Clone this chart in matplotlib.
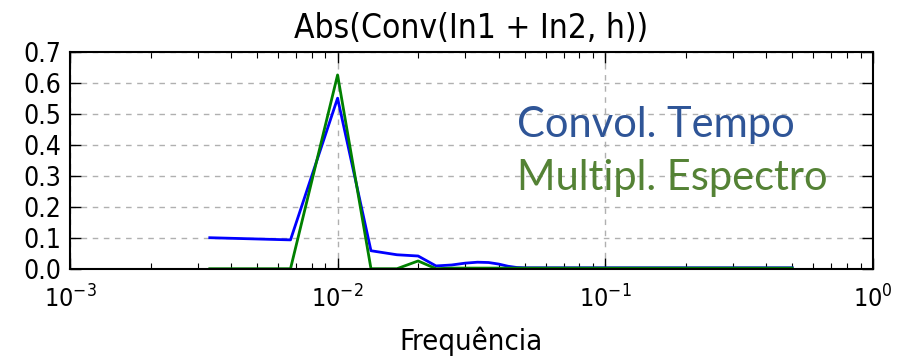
import matplotlib
matplotlib.use("Agg")
import matplotlib.pyplot as plt

# |conv| spectrum, time-domain convolution vs spectrum multiplication
freq = [0.00333, 0.00667, 0.01, 0.01333, 0.01667, 0.02, 0.02333, 0.02667,
        0.03, 0.03333, 0.03667, 0.04, 0.04333, 0.04667, 0.05, 0.1, 0.2, 0.5]
conv_time = [0.100, 0.093, 0.550, 0.058, 0.045, 0.041, 0.009, 0.012,
             0.018, 0.021, 0.020, 0.015, 0.008, 0.004, 0.003, 0.003, 0.003, 0.003]
mult_spec = [0.0, 0.0, 0.625, 0.0, 0.0, 0.025, 0.0, 0.002,
             0.002, 0.002, 0.002, 0.002, 0.002, 0.002, 0.002, 0.002, 0.002, 0.002]

yticks = [0.0, 0.1, 0.2, 0.3, 0.4, 0.5, 0.6, 0.7]

plt.rcParams["font.family"] = ["DejaVu Sans"]
plt.rcParams["font.stretch"] = "condensed"

fig = plt.figure(figsize=(8.97, 3.58), dpi=100)
ax = fig.add_axes([0.078, 0.2494, 0.8950, 0.6062])

ax.plot(freq, conv_time, color="#0000ff", lw=2.0)
ax.plot(freq, mult_spec, color="#008000", lw=2.0)

ax.set_xscale("log")
ax.set_xlim(1e-3, 1)
ax.set_ylim(0, 0.7)
ax.set_yticks(yticks)
ax.set_yticklabels([f"{v:.1f}" for v in yticks])

ax.grid(True, which="major", color="#b0b0b0", ls=(0, (4, 4)), lw=1.0)
ax.tick_params(which="both", direction="in", top=True, right=True,
               colors="black")
ax.tick_params(axis="y", labelsize=19, pad=6)
ax.tick_params(axis="x", labelsize=18, pad=12)
ax.tick_params(which="major", length=8, width=1.0)
ax.tick_params(which="minor", length=4, width=0.8)
for sp in ax.spines.values():
    sp.set_linewidth(1.5)

ax.set_title("Abs(Conv(In1 + In2, h))", fontsize=24, pad=10)
ax.set_xlabel("Frequência", fontsize=21, labelpad=10)

ax.text(0.557, 0.607, "Convol. Tempo", transform=ax.transAxes, va="baseline",
        color="#2f5597", fontsize=30, family=["Lato", "DejaVu Sans"])
ax.text(0.557, 0.365, "Multipl. Espectro", transform=ax.transAxes, va="baseline",
        color="#548235", fontsize=30, family=["Lato", "DejaVu Sans"])

fig.savefig("out.png", dpi=100, facecolor="white")
